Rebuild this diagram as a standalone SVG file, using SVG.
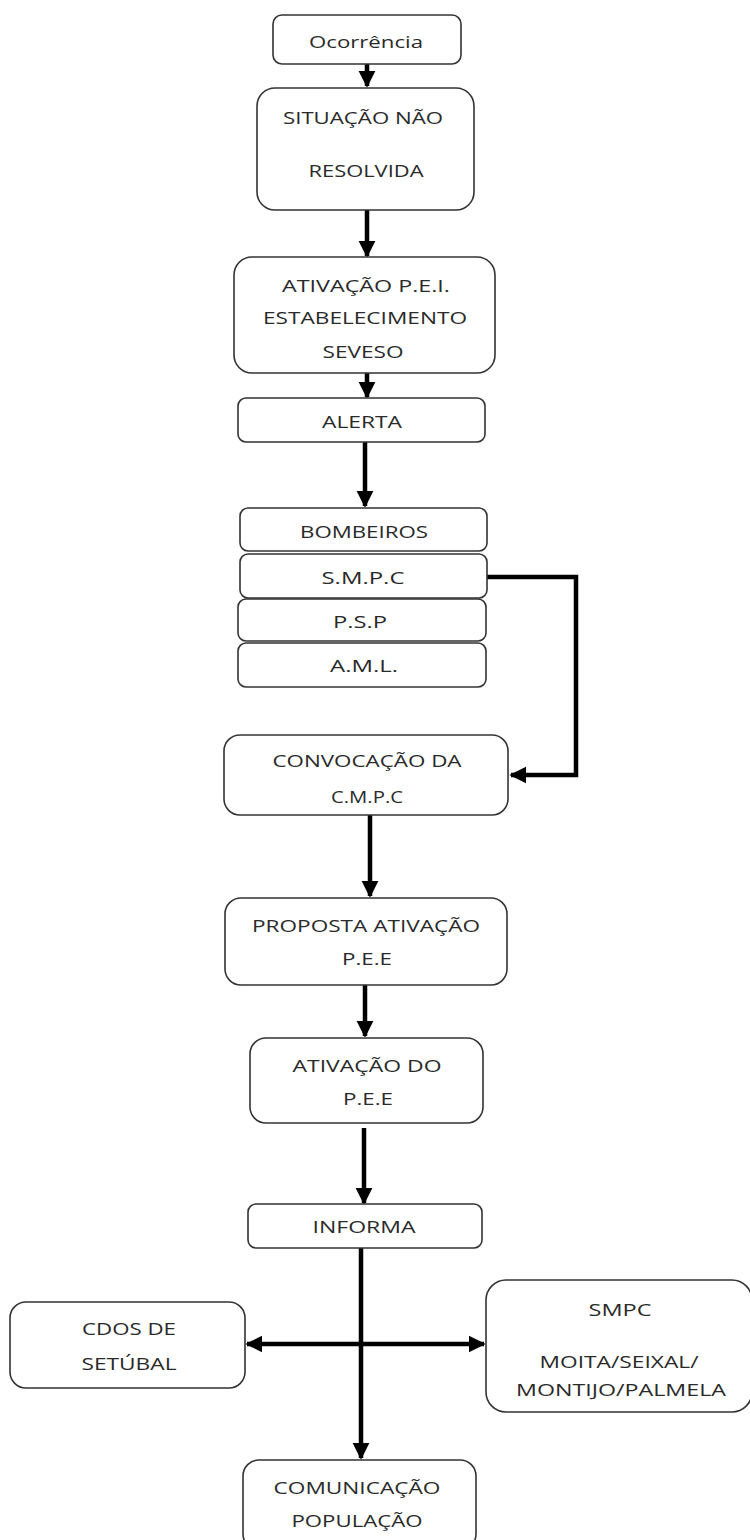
<svg xmlns="http://www.w3.org/2000/svg" width="750" height="1540" viewBox="0 0 750 1540">
<defs>
<marker id="ah" viewBox="0 0 10 10" refX="9" refY="5" markerWidth="3.8" markerHeight="3.8" orient="auto" markerUnits="strokeWidth">
<path d="M0,0 L10,5 L0,10 z" fill="#000"/>
</marker>
<style>
.box{fill:#fff;stroke:#333;stroke-width:1.6}
.t{font-family:"Open Sans","Liberation Sans",sans-serif;font-size:16.5px;fill:#2a2a2a;text-anchor:middle}
.c{fill:none;stroke:#000;stroke-width:4.5}
</style>
</defs>
<rect width="750" height="1540" fill="#fff"/>
<g id="connectors">
<path class="c" d="M367,64 V86" marker-end="url(#ah)"/>
<path class="c" d="M367,210 V256" marker-end="url(#ah)"/>
<path class="c" d="M367,373 V397" marker-end="url(#ah)"/>
<path class="c" d="M365,442 V506" marker-end="url(#ah)"/>
<path class="c" d="M487,577 H576 V775 H511" marker-end="url(#ah)"/>
<path class="c" d="M370,815 V896" marker-end="url(#ah)"/>
<path class="c" d="M365,985 V1036" marker-end="url(#ah)"/>
<path class="c" d="M364,1128 V1203" marker-end="url(#ah)"/>
<path class="c" d="M361,1248 V1458" marker-end="url(#ah)"/>
<path class="c" d="M361,1344 H247" marker-end="url(#ah)"/>
<path class="c" d="M361,1344 H484" marker-end="url(#ah)"/>
</g>
<g id="ocorrencia"><rect class="box" x="273" y="15" width="188" height="49" rx="9"/><text class="t" x="366" y="48" textLength="114" lengthAdjust="spacingAndGlyphs">Ocorrência</text></g>
<g id="situacao"><rect class="box" x="257" y="88" width="217" height="122" rx="18"/><text class="t" x="363" y="124" textLength="160" lengthAdjust="spacingAndGlyphs">SITUAÇÃO NÃO</text><text class="t" x="366" y="177" textLength="115" lengthAdjust="spacingAndGlyphs">RESOLVIDA</text></g>
<g id="ativacao-pei"><rect class="box" x="234" y="257" width="261" height="116" rx="18"/><text class="t" x="366" y="292" textLength="168" lengthAdjust="spacingAndGlyphs">ATIVAÇÃO P.E.I.</text><text class="t" x="365" y="324" textLength="204" lengthAdjust="spacingAndGlyphs">ESTABELECIMENTO</text><text class="t" x="363" y="358" textLength="81" lengthAdjust="spacingAndGlyphs">SEVESO</text></g>
<g id="alerta"><rect class="box" x="238" y="398" width="247" height="44" rx="8"/><text class="t" x="362" y="428" textLength="80" lengthAdjust="spacingAndGlyphs">ALERTA</text></g>
<g id="bombeiros"><rect class="box" x="240" y="508" width="247" height="43" rx="8"/><text class="t" x="364" y="538" textLength="128" lengthAdjust="spacingAndGlyphs">BOMBEIROS</text></g>
<g id="smpc1"><rect class="box" x="240" y="554" width="247" height="44" rx="8"/><text class="t" x="363" y="584" textLength="83" lengthAdjust="spacingAndGlyphs">S.M.P.C</text></g>
<g id="psp"><rect class="box" x="238" y="599" width="248" height="42" rx="8"/><text class="t" x="360" y="628" textLength="54" lengthAdjust="spacingAndGlyphs">P.S.P</text></g>
<g id="aml"><rect class="box" x="238" y="643" width="248" height="44" rx="8"/><text class="t" x="364" y="672" textLength="68" lengthAdjust="spacingAndGlyphs">A.M.L.</text></g>
<g id="convocacao"><rect class="box" x="224" y="735" width="284" height="80" rx="16"/><text class="t" x="367" y="767" textLength="189" lengthAdjust="spacingAndGlyphs">CONVOCAÇÃO DA</text><text class="t" x="367" y="803" textLength="72" lengthAdjust="spacingAndGlyphs">C.M.P.C</text></g>
<g id="proposta"><rect class="box" x="225" y="898" width="282" height="87" rx="16"/><text class="t" x="366" y="932" textLength="228" lengthAdjust="spacingAndGlyphs">PROPOSTA ATIVAÇÃO</text><text class="t" x="367" y="965" textLength="50" lengthAdjust="spacingAndGlyphs">P.E.E</text></g>
<g id="ativacao-pee"><rect class="box" x="250" y="1038" width="233" height="85" rx="16"/><text class="t" x="367" y="1072" textLength="149" lengthAdjust="spacingAndGlyphs">ATIVAÇÃO DO</text><text class="t" x="368" y="1105" textLength="50" lengthAdjust="spacingAndGlyphs">P.E.E</text></g>
<g id="informa"><rect class="box" x="248" y="1204" width="234" height="44" rx="8"/><text class="t" x="364" y="1233" textLength="103" lengthAdjust="spacingAndGlyphs">INFORMA</text></g>
<g id="cdos"><rect class="box" x="10" y="1302" width="235" height="86" rx="16"/><text class="t" x="129" y="1335" textLength="94" lengthAdjust="spacingAndGlyphs">CDOS DE</text><text class="t" x="129" y="1370" textLength="95" lengthAdjust="spacingAndGlyphs">SETÚBAL</text></g>
<g id="smpc2"><rect class="box" x="486" y="1280" width="266" height="132" rx="20"/><text class="t" x="620" y="1316" textLength="63" lengthAdjust="spacingAndGlyphs">SMPC</text><text class="t" x="619" y="1368" textLength="159" lengthAdjust="spacingAndGlyphs">MOITA/SEIXAL/</text><text class="t" x="621" y="1396" textLength="210" lengthAdjust="spacingAndGlyphs">MONTIJO/PALMELA</text></g>
<g id="comunicacao"><rect class="box" x="243" y="1460" width="233" height="90" rx="16"/><text class="t" x="357" y="1494" textLength="167" lengthAdjust="spacingAndGlyphs">COMUNICAÇÃO</text><text class="t" x="357" y="1527" textLength="131" lengthAdjust="spacingAndGlyphs">POPULAÇÃO</text></g>
</svg>
